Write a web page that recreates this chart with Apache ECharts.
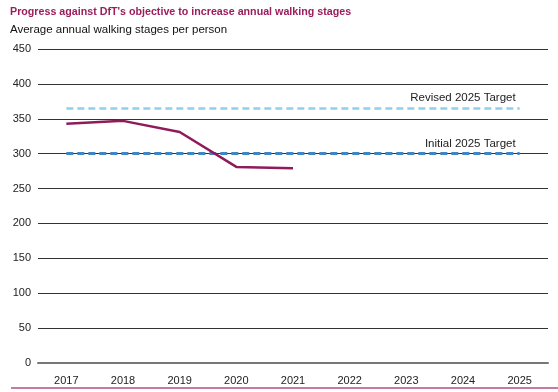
<!DOCTYPE html>
<html>
<head>
<meta charset="utf-8">
<script src="https://cdn.jsdelivr.net/npm/echarts@6/dist/echarts.min.js"></script>
<style>
html,body{margin:0;padding:0;background:#fff;}
#c{width:558px;height:392px;}
</style>
</head>
<body>
<div id="c"></div>
<script>
var years = ['2017','2018','2019','2020','2021','2022','2023','2024','2025'];
var walkingStages = [343, 347, 331, 281, 279, null, null, null, null];
var revisedTarget = 365;
var initialTarget = 300;
var yTicks = {min: 0, max: 450, interval: 50};

var chart = echarts.init(document.getElementById('c'), null, {renderer: 'canvas'});
var font = '"Liberation Sans", Arial, sans-serif';
chart.setOption({
  animation: false,
  textStyle: {fontFamily: font},
  title: [
    {text: "Progress against DfT's objective to increase annual walking stages", left: 5, top: 2,
     textStyle: {fontSize: 10.7, fontWeight: 'bold', color: '#9c1d5c', fontFamily: font}},
    {text: 'Average annual walking stages per person', left: 5, top: 19,
     textStyle: {fontSize: 11.5, fontWeight: 'normal', color: '#111', fontFamily: font}}
  ],
  grid: {left: 38, right: 10, top: 49, bottom: 29, containLabel: false},
  xAxis: {
    type: 'category', data: years, boundaryGap: true,
    axisLine: {lineStyle: {color: '#777', width: 2}},
    axisTick: {alignWithLabel: true, length: 4, lineStyle: {color: '#555'}},
    axisLabel: {color: '#222', fontSize: 11, margin: 12, fontFamily: font}
  },
  yAxis: {
    type: 'value', min: yTicks.min, max: yTicks.max, interval: yTicks.interval,
    axisLine: {show: false}, axisTick: {show: false},
    axisLabel: {color: '#222', fontSize: 11, margin: 7, fontFamily: font},
    splitLine: {lineStyle: {color: '#333', width: 1}}
  },
  series: [
    {
      type: 'line', data: walkingStages, symbol: 'none', connectNulls: false,
      lineStyle: {color: '#8e1b5a', width: 2.5}, z: 5,
      markLine: {
        silent: true, symbol: 'none',
        data: [
          [{coord: ['2017', revisedTarget], lineStyle: {color: '#8fd0ec', type: [7, 4], width: 2.5},
            label: {show: true, position: 'insideEndTop', formatter: 'Revised 2025 Target', color: '#222', fontSize: 11.5, fontFamily: font, distance: 4}},
           {coord: ['2025', revisedTarget]}],
          [{coord: ['2017', initialTarget], lineStyle: {color: '#3f86c4', type: [7, 4], width: 3},
            label: {show: true, position: 'insideEndTop', formatter: 'Initial 2025 Target', color: '#222', fontSize: 11.5, fontFamily: font, distance: 4}},
           {coord: ['2025', initialTarget]}]
        ]
      }
    }
  ],
  graphic: [
    {type: 'line', shape: {x1: 11, y1: 388, x2: 558, y2: 388}, style: {stroke: '#c77aa3', lineWidth: 2}}
  ]
});
</script>
</body>
</html>
